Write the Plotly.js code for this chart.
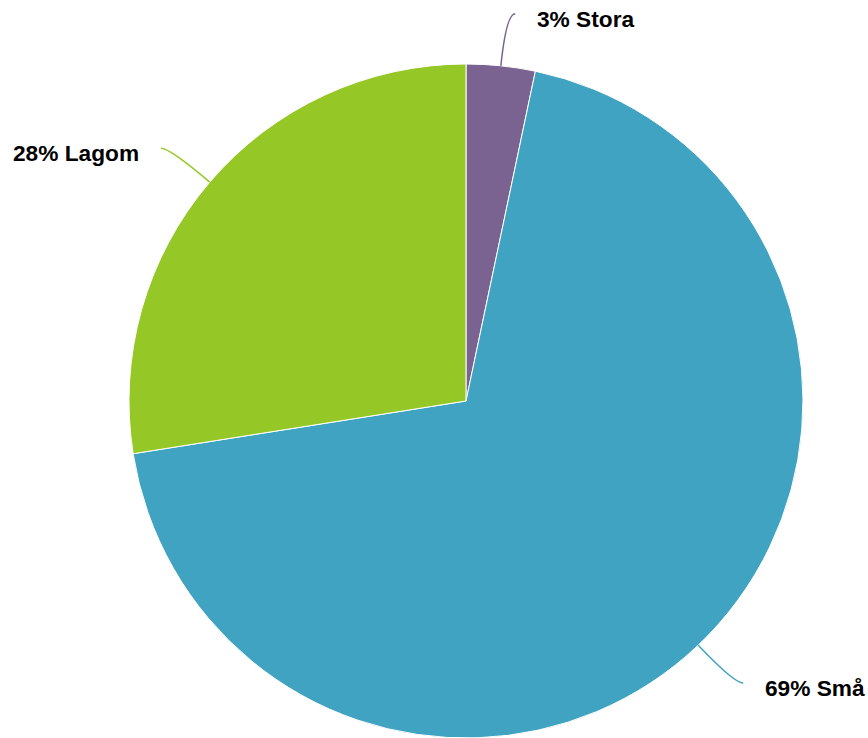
<!DOCTYPE html>
<html>
<head>
<meta charset="utf-8">
<script src="https://cdn.plot.ly/plotly-3.0.1.min.js"></script>
<style>html,body{margin:0;padding:0;background:#fff;}#chart{width:868px;height:738px;}</style>
</head>
<body>
<div id="chart"></div>
<script>
var categories = ["Stora", "Små", "Lagom"];
var values = [3.3, 69.2, 27.5];
var percentLabels = ["3%", "69%", "28%"];
var colors = ["#7B6391", "#40A3C2", "#95C826"];

var W = 868, H = 738;
var domX = [0.1486, 0.9251], domY = [0, 0.9133];

// pie geometry in pixels (as Plotly lays it out)
var cx = (domX[0] + domX[1]) / 2 * W;
var cy = H - (domY[0] + domY[1]) / 2 * H;
var r = Math.min((domX[1] - domX[0]) * W, (domY[1] - domY[0]) * H) / 2;

function px(x) { return x / W; }
function py(y) { return (H - y) / H; }

var total = values.reduce(function (a, b) { return a + b; }, 0);
var shapes = [], annotations = [];
var cum = 0;
for (var i = 0; i < values.length; i++) {
  var mid = (cum + values[i] / 2) / total * 2 * Math.PI;
  cum += values[i];
  var dx = Math.sin(mid), dy = -Math.cos(mid);
  var P = [cx + r * dx, cy + r * dy];
  var R2 = r * 1.155;
  var Q = [cx + R2 * dx, cy + R2 * dy];
  var side = dx >= 0 ? 1 : -1;
  var E = [Q[0] + side * 9, Q[1]];
  shapes.push({
    type: "path", xref: "paper", yref: "paper",
    path: "M" + px(P[0]) + "," + py(P[1]) + " Q" + px(Q[0]) + "," + py(Q[1]) + " " + px(E[0]) + "," + py(E[1]),
    line: {color: colors[i], width: 1.5}
  });
  annotations.push({
    xref: "paper", yref: "paper",
    x: px(E[0] + side * 20), y: py(E[1] + 5),
    xanchor: side > 0 ? "left" : "right", yanchor: "middle",
    text: "<b>" + percentLabels[i] + " " + categories[i] + "</b>",
    showarrow: false,
    font: {family: "Liberation Sans, Arial, sans-serif", size: 22.7, color: "#000"}
  });
}

var data = [{
  type: "pie",
  labels: categories,
  values: values,
  sort: false,
  direction: "clockwise",
  rotation: 0,
  textinfo: "none",
  hoverinfo: "none",
  domain: {x: domX, y: domY},
  marker: {colors: colors, line: {color: "#ffffff", width: 1}}
}];

var layout = {
  width: W, height: H,
  margin: {l: 0, r: 0, t: 0, b: 0},
  showlegend: false,
  paper_bgcolor: "#ffffff",
  shapes: shapes,
  annotations: annotations
};

Plotly.newPlot("chart", data, layout, {displayModeBar: false, staticPlot: true});
</script>
</body>
</html>
